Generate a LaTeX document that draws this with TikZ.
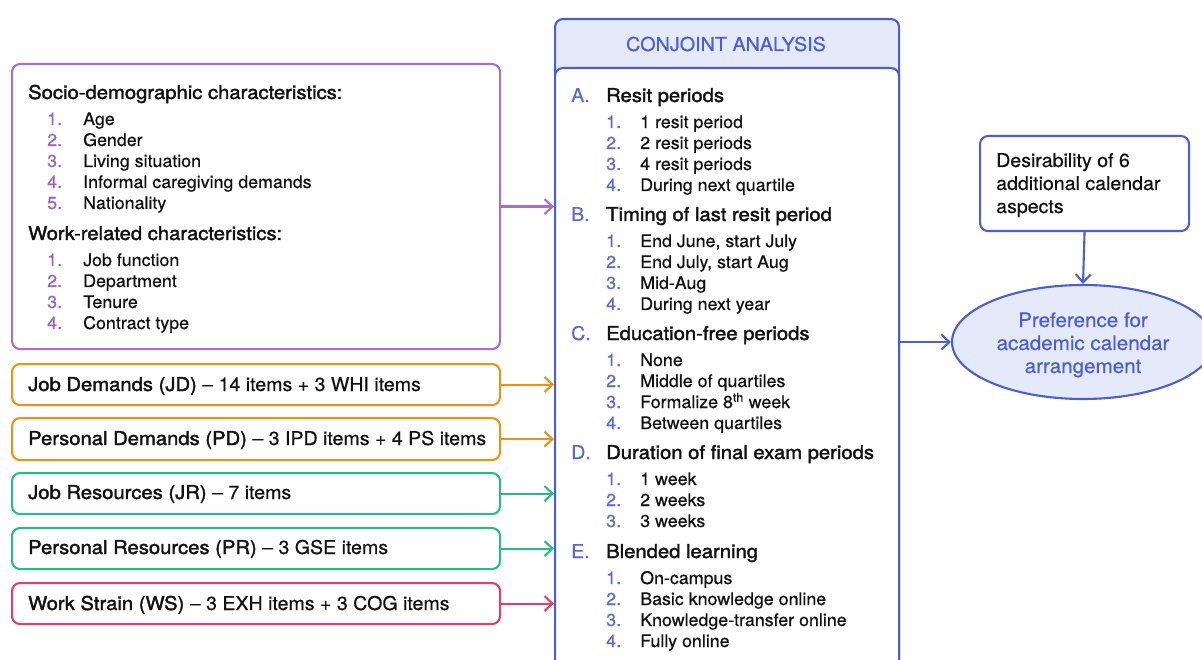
\documentclass[tikz,border=0pt]{standalone}
\usepackage{fontspec}
\setmainfont[FakeStretch=1.03, FakeBold=0.5]{TeX Gyre Heros}
\newfontfamily\medfont[FakeStretch=1.065, FakeBold=1.8]{TeX Gyre Heros}
\usetikzlibrary{arrows.meta,shapes.geometric}

\definecolor{cpurple}{HTML}{A86CD6}
\definecolor{cpurplenum}{HTML}{9A5EC6}
\definecolor{corange}{HTML}{F29111}
\definecolor{cgreen}{HTML}{25BD84}
\definecolor{cpink}{HTML}{EE3A6A}
\definecolor{cblue}{HTML}{4B5ED7}
\definecolor{cbluenum}{HTML}{5869D9}
\definecolor{cbluefill}{HTML}{E5EAFB}
\definecolor{ctext}{HTML}{111111}

\tikzset{
  frame/.style={draw=#1, line width=2.1pt, rounded corners=8pt, anchor=north west, inner sep=0pt},
  arr/.style={draw=#1, line width=2.1pt, -{Straight Barb[length=8pt,width=15pt,line width=2.1pt]}},
  headtxt/.style={anchor=base west, inner sep=0pt, text=ctext, font=\fontsize{19}{22}\medfont},
  itemtxt/.style={anchor=base west, inner sep=0pt, text=ctext, font=\fontsize{17.3}{20}\selectfont},
  numtxt/.style={anchor=base west, inner sep=0pt, text=#1, font=\fontsize{17.3}{20}\selectfont},
  lettxt/.style={anchor=base west, inner sep=0pt, text=cbluenum, font=\fontsize{19}{22}\selectfont},
  boxtxt/.style={anchor=base west, inner sep=0pt, text=ctext, font=\fontsize{19}{22}\selectfont},
  bluetxt/.style={anchor=base, inner sep=0pt, text=cblue, font=\fontsize{20}{22}\selectfont},
}

\begin{document}
\begin{tikzpicture}[x=1pt,y=-1pt]
\useasboundingbox (0,0) rectangle (1202,660);
\clip (0,0) rectangle (1202,660);

% ---- characteristics box ----
\node[frame=cpurple, minimum width=488pt, minimum height=285pt] (socio) at (11,63) {};
\node[headtxt] (socioh) at (28,99) {Socio-demographic characteristics:};
\foreach \t [count=\i] in {Age, Gender, Living situation, Informal caregiving demands, Nationality}{
  \pgfmathsetmacro\yy{125+21*(\i-1)}
  \node[numtxt=cpurplenum] (sn\i) at (47,\yy) {\i.};
  \node[itemtxt] (st\i) at (83,\yy) {\t};
}
\node[headtxt] (workh) at (28,240) {Work-related characteristics:};
\foreach \t [count=\i] in {Job function, Department, Tenure, Contract type}{
  \pgfmathsetmacro\yy{266+21*(\i-1)}
  \node[numtxt=cpurplenum] (wn\i) at (47,\yy) {\i.};
  \node[itemtxt] (wt\i) at (83,\yy) {\t};
}

% ---- scale boxes ----
\node[frame=corange, minimum width=488pt, minimum height=41pt] (jd) at (11,363) {};
\node[boxtxt] (jdt) at (28,391) {{\medfont Job Demands (JD)} – 14 items + 3 WHI items};
\node[frame=corange, minimum width=488pt, minimum height=42pt] (pd) at (11,417) {};
\node[boxtxt] (pdt) at (28,445) {{\medfont Personal Demands (PD)} – 3 IPD items + 4 PS items};
\node[frame=cgreen, minimum width=488pt, minimum height=41pt] (jr) at (11,472) {};
\node[boxtxt] (jrt) at (28,499) {{\medfont Job Resources (JR)} – 7 items};
\node[frame=cgreen, minimum width=488pt, minimum height=41pt] (pr) at (11,527) {};
\node[boxtxt] (prt) at (28,554) {{\medfont Personal Resources (PR)} – 3 GSE items};
\node[frame=cpink, minimum width=488pt, minimum height=41pt] (ws) at (11,582) {};
\node[boxtxt] (wst) at (28,610) {{\medfont Work Strain (WS)} – 3 EXH items + 3 COG items};

% ---- conjoint analysis panel ----
\node[frame=cblue, fill=cbluefill, minimum width=344pt, minimum height=720pt] (ca) at (554,18) {};
\node[frame=cblue, fill=white, minimum width=344pt, minimum height=700pt] (cabody) at (554,67) {};
\node[bluetxt, font=\fontsize{19.2}{22}\selectfont] (cah) at (726,51) {CONJOINT ANALYSIS};

\node[lettxt] (la) at (571,102) {A.};
\node[headtxt] (ha) at (606,102) {Resit periods};
\foreach \t [count=\i] in {1 resit period, 2 resit periods, 4 resit periods, During next quartile}{
  \pgfmathsetmacro\yy{128+21*(\i-1)}
  \node[numtxt=cbluenum] (an\i) at (606,\yy) {\i.};
  \node[itemtxt] (at\i) at (640,\yy) {\t};
}
\node[lettxt] (lb) at (571,221) {B.};
\node[headtxt] (hb) at (606,221) {Timing of last resit period};
\foreach \t [count=\i] in {{End June, start July}, {End July, start Aug}, Mid-Aug, During next year}{
  \pgfmathsetmacro\yy{247+21*(\i-1)}
  \node[numtxt=cbluenum] (bn\i) at (606,\yy) {\i.};
  \node[itemtxt] (bt\i) at (640,\yy) {\t};
}
\node[lettxt] (lc) at (571,340) {C.};
\node[headtxt] (hc) at (606,340) {Education-free periods};
\foreach \t [count=\i] in {None, Middle of quartiles, Formalize 8\textsuperscript{th} week, Between quartiles}{
  \pgfmathsetmacro\yy{366+21*(\i-1)}
  \node[numtxt=cbluenum] (cn\i) at (606,\yy) {\i.};
  \node[itemtxt] (ct\i) at (640,\yy) {\t};
}
\node[lettxt] (ld) at (571,459) {D.};
\node[headtxt] (hd) at (606,459) {Duration of final exam periods};
\foreach \t [count=\i] in {1 week, 2 weeks, 3 weeks}{
  \pgfmathsetmacro\yy{485+21*(\i-1)}
  \node[numtxt=cbluenum] (dn\i) at (606,\yy) {\i.};
  \node[itemtxt] (dt\i) at (640,\yy) {\t};
}
\node[lettxt] (le) at (571,558) {E.};
\node[headtxt] (he) at (606,558) {Blended learning};
\foreach \t [count=\i] in {On-campus, Basic knowledge online, Knowledge-transfer online, Fully online}{
  \pgfmathsetmacro\yy{584+21*(\i-1)}
  \node[numtxt=cbluenum] (en\i) at (606,\yy) {\i.};
  \node[itemtxt] (et\i) at (640,\yy) {\t};
}

% ---- outcome side ----
\node[frame=cblue, minimum width=209pt, minimum height=95pt] (des) at (979,135) {};
\node[boxtxt] (des1) at (996,167) {Desirability of 6};
\node[boxtxt] (des2) at (996,190) {additional calendar};
\node[boxtxt] (des3) at (996,213) {aspects};

\node[ellipse, draw=cblue, fill=cbluefill, line width=2.1pt, minimum width=262pt, minimum height=114pt, inner sep=0pt] (pref) at (1083,342) {};
\node[bluetxt] (pref1) at (1083,327) {Preference for};
\node[bluetxt] (pref2) at (1083,350) {academic calendar};
\node[bluetxt] (pref3) at (1083,373) {arrangement};

% ---- connectors ----
\draw[arr=cpurple] (socio.east) -- (socio.east -| ca.west);
\draw[arr=corange] (jd.east) -- (jd.east -| ca.west);
\draw[arr=corange] (pd.east) -- (pd.east -| ca.west);
\draw[arr=cgreen] (jr.east) -- (jr.east -| ca.west);
\draw[arr=cgreen] (pr.east) -- (pr.east -| ca.west);
\draw[arr=cpink] (ws.east) -- (ws.east -| ca.west);
\draw[arr=cblue] (pref.west -| ca.east) -- (pref.west);
\draw[arr=cblue] (des.south) -- (pref.north);
\end{tikzpicture}
\end{document}
